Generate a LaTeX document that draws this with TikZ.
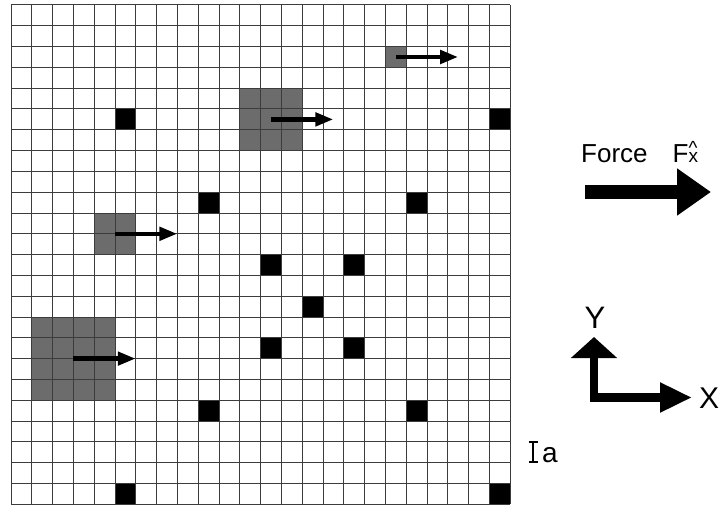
\documentclass[tikz,border=0pt]{standalone}
\usepackage{fontspec}
\setmainfont{Liberation Sans}
\usepackage{tikz}
\usetikzlibrary{arrows.meta, positioning}
\definecolor{patchgray}{RGB}{108, 108, 108}
\definecolor{gridgray}{RGB}{60, 60, 60}
\newcommand{\cellsz}{20.8pt}

\begin{document}
\begin{tikzpicture}[
        x=1pt, y=-1pt,
        gridline/.style={draw=gridgray, line width=1pt},
        patch/.style={rectangle, fill=patchgray, inner sep=0pt, outer sep=0pt},
        push/.style={-{Triangle[length=18pt, width=13pt]}, line width=4.6pt},
        bigforce/.style={-{Triangle[length=34pt, width=45pt]}, line width=14pt},
        axis/.style={line width=8.5pt, line join=miter},
        label/.style={inner sep=0pt, anchor=base}
    ]
        \useasboundingbox (0,0) rectangle (719,505);

        % the lattice, in cell units
        \begin{scope}[shift={(11,5)}, x=\cellsz, y=-\cellsz]
            \node[patch, minimum size=\cellsz] (p1) at (18.5,2.5) {};
            \node[patch, minimum size=3*\cellsz] (p3) at (12.5,5.5) {};
            \node[patch, minimum size=2*\cellsz] (p2) at (5,11) {};
            \node[patch, minimum size=4*\cellsz] (p4) at (3,17) {};

            \foreach \c/\r in {5/5, 23/5, 9/9, 19/9, 12/12, 16/12, 14/14,
                               12/16, 16/16, 9/19, 19/19, 5/23, 23/23}
                \fill (\c,\r) rectangle ++(1,1);

            \foreach \i in {0,...,24} {
                \draw[gridline] (\i,0) -- (\i,24);
                \draw[gridline] (0,\i) -- (24,\i);
            }

            \coordinate (e1) at (21.5,2.5);
            \coordinate (e3) at (15.5,5.5);
            \coordinate (e2) at (8,11);
            \coordinate (e4) at (6,17);
        \end{scope}

        \draw[push] (p1.center) -- (e1);
        \draw[push] (p3.center) -- (e3);
        \draw[push] (p2.center) -- (e2);
        \draw[push] (p4.center) -- (e4);

        % force
        \node[label, anchor=base west] (force) at (581,162)
            {\fontsize{26}{26}\selectfont Force\hspace{25pt}F{\fontsize{19}{19}\selectfont\rlap{\raisebox{0.4em}{\textasciicircum}}x}};
        \coordinate (fa) at (585,192);
        \coordinate (fb) at (711,192);
        \draw[bigforce] (fa) -- (fb);

        % axes
        \coordinate (origin) at (594,397.5);
        \coordinate (ytip) at (594,337);
        \coordinate (xtip) at (692,397.5);
        \draw[axis, {Triangle[length=21pt, width=45pt]}-{Triangle[length=32pt, width=28pt]}]
            (ytip) -- (origin) -- (xtip);
        \node[label] (ylab) at (595,328) {\fontsize{31}{31}\selectfont Y};
        \node[label] (xlab) at (709,408) {\fontsize{30}{30}\selectfont X};

        % cell size
        \coordinate (at) at (533,441);
        \coordinate (ab) at (533,463);
        \draw[{Bar[width=9pt]}-{Bar[width=9pt]}, line width=1.6pt] (at) -- (ab);
        \node[label, anchor=base west] (alab) at (542,462) {\fontsize{28}{28}\selectfont a};
\end{tikzpicture}
\end{document}
